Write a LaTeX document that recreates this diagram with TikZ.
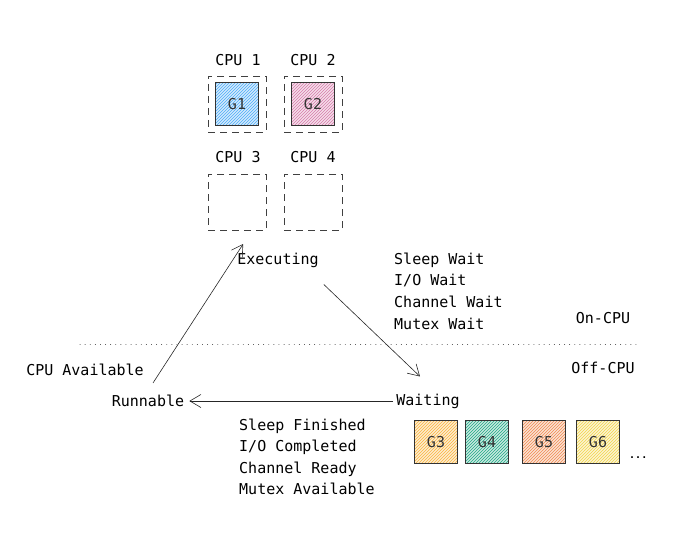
\documentclass[tikz,border=0pt]{standalone}
\usepackage{fontspec}
\setmainfont{DejaVu Sans Mono}
\usetikzlibrary{arrows.meta,patterns,positioning}
\definecolor{gblue}{HTML}{4DABF7}
\definecolor{gpink}{HTML}{D67BAA}
\definecolor{gamber}{HTML}{FAB33C}
\definecolor{gteal}{HTML}{20A884}
\definecolor{gorange}{HTML}{F08A50}
\definecolor{gyellow}{HTML}{F2D54A}

\begin{document}
\begin{tikzpicture}[x=1pt,y=-1pt,>={Straight Barb[length=11pt,width=13pt]},
 font=\fontsize{15}{17}\selectfont,
 slot/.style={draw,black!75,thick,dash pattern=on 7pt off 5pt,minimum width=58pt,minimum height=56pt,inner sep=0pt},
 gbox/.style={draw,black!80,thick,minimum size=43pt,inner sep=0pt,
   preaction={fill=#1!25},pattern=north east lines,pattern color=#1},
 lbl/.style={inner sep=1pt},
 flow/.style={->,black!85,semithick}]
\useasboundingbox (0,0) rectangle (687,540);
% processors
\node[lbl] (cpu1) at (238,60) {CPU 1};
\node[lbl] (cpu2) at (313,60) {CPU 2};
\node[lbl] (cpu3) at (238,157) {CPU 3};
\node[lbl] (cpu4) at (313,157) {CPU 4};
\node[slot] (s1) at (237,104) {};
\node[slot] (s2) at (313,104) {};
\node[slot] (s3) at (237,202) {};
\node[slot] (s4) at (313,202) {};
\node[gbox=gblue] (g1) at (s1) {G1};
\node[gbox=gpink] (g2) at (s2) {G2};
% states
\node[lbl] (exe) at (278,260) {Executing};
\node[lbl] (run) at (148,401) {Runnable};
\node[lbl] (wait) at (428,401) {Waiting};
\node[lbl] (avail) at (85,370) {CPU Available};
\node[lbl,anchor=west,align=left,font=\fontsize{15}{21.7}\selectfont] (why) at (393,291)
  {Sleep Wait\\I/O Wait\\Channel Wait\\Mutex Wait};
\node[lbl,anchor=west,align=left,font=\fontsize{15}{21.4}\selectfont] (done) at (238,457)
  {Sleep Finished\\I/O Completed\\Channel Ready\\Mutex Available};
\node[lbl] (on) at (603,318) {On-CPU};
\node[lbl] (off) at (603,368) {Off-CPU};
\coordinate (divL) at (80,344);
\coordinate (divR) at (636,344);
\draw[black!75,thick,line cap=round,dash pattern=on 0.1pt off 5pt] (divL) -- (divR);
% waiting goroutines
\node[gbox=gamber] (g3) at (436,442) {G3};
\node[gbox=gteal] (g4) at (487,442) {G4};
\node[gbox=gorange] (g5) at (544,442) {G5};
\node[gbox=gyellow] (g6) at (598,442) {G6};
\node[lbl,anchor=base west,font=\fontsize{10}{12}\selectfont\bfseries] (more) at (628,458) {...};
% transitions
\draw[flow] ([shift={(5pt,11pt)}]run.north) -- ([shift={(7pt,16pt)}]exe.west);
\draw[flow] ([shift={(4pt,-16pt)}]exe.south east) -- ([shift={(-8pt,16pt)}]wait.north);
\draw[flow,shorten <=2pt,shorten >=4pt] (wait.west) -- (run.east);
\end{tikzpicture}
\end{document}
